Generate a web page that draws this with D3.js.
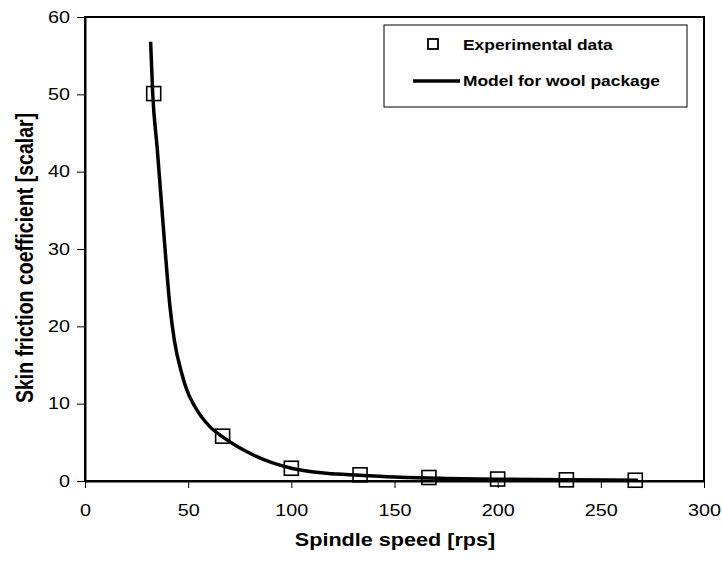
<!DOCTYPE html>
<html>
<head>
<meta charset="utf-8">
<script src="https://cdn.jsdelivr.net/npm/d3@7/dist/d3.min.js"></script>
<style>
  body { margin: 0; background: #fff; }
  text { font-family: "Liberation Sans", Arial, sans-serif; }
</style>
</head>
<body>
<svg id="chart" width="722" height="575"></svg>
<script>
// experimental points (spindle speed rps, skin friction coefficient)
var expSpeed = [33.3, 66.7, 100, 133.3, 166.7, 200, 233.3, 266.7];
var expCoef  = [50.1, 5.8, 1.65, 0.8, 0.45, 0.25, 0.15, 0.1];

// model curve
var modelSpeed = [31.8, 32.8, 35, 38.5, 41.2, 43.3, 46.9, 49.3, 53.3, 60.6, 66.7, 81.6, 100, 117, 133.3, 152.7, 175, 200, 233.3, 268];
var modelCoef  = [56.8, 50.2, 43, 31, 22.5, 18.2, 13.9, 11.8, 9.6, 7.0, 5.7, 3.36, 1.65, 1.0, 0.75, 0.48, 0.33, 0.24, 0.15, 0.1];

var xTicks = [0, 50, 100, 150, 200, 250, 300];
var yTicks = [0, 10, 20, 30, 40, 50, 60];

var m = {left: 85, top: 17, right: 704, bottom: 481};
var sx = 1.2; // text in the original is a bit wide

var svg = d3.select("#chart");

var x = d3.scaleLinear().domain([0, 300]).range([m.left, m.right]);
var y = d3.scaleLinear().domain([0, 60]).range([m.bottom, m.top]);

// plot frame
svg.append("rect")
    .attr("x", m.left).attr("y", m.top)
    .attr("width", m.right - m.left).attr("height", m.bottom - m.top)
    .attr("fill", "none").attr("stroke", "#000").attr("stroke-width", 2);

var xAxis = svg.append("g")
    .attr("transform", "translate(0," + m.bottom + ")")
    .call(d3.axisBottom(x).tickValues(xTicks).tickSize(7).tickPadding(16).tickSizeOuter(0));

var yAxis = svg.append("g")
    .attr("transform", "translate(" + m.left + ",0)")
    .call(d3.axisLeft(y).tickValues(yTicks).tickSize(8).tickPadding(6).tickSizeOuter(0));

[xAxis, yAxis].forEach(function (g) {
    g.select(".domain").attr("stroke-width", 2);
    g.selectAll(".tick line").attr("stroke-width", 1);
    g.selectAll(".tick text").attr("font-size", 16.5).attr("fill", "#000")
        .style("font-family", "'Liberation Sans', Arial, sans-serif");
});
xAxis.selectAll(".tick text").attr("transform", "scale(" + sx + ",1)");
yAxis.selectAll(".tick text").attr("x", 0)
    .attr("transform", "translate(-15,0) scale(" + sx + ",1)");

// model line
var line = d3.line()
    .x(function (d, i) { return x(modelSpeed[i]); })
    .y(function (d) { return y(d); })
    .curve(d3.curveMonotoneX);

svg.append("path")
    .datum(modelCoef)
    .attr("d", line)
    .attr("fill", "none")
    .attr("stroke", "#000")
    .attr("stroke-width", 3.5);

// experimental squares
var sq = 14;
svg.selectAll("rect.pt")
    .data(expCoef)
    .enter().append("rect")
    .attr("class", "pt")
    .attr("x", function (d, i) { return x(expSpeed[i]) - sq / 2; })
    .attr("y", function (d) { return y(d) - sq / 2; })
    .attr("width", sq).attr("height", sq)
    .attr("fill", "none")
    .attr("stroke", "#000")
    .attr("stroke-width", 1.6);

// axis titles
svg.append("text")
    .attr("transform", "translate(395,546) scale(" + sx + ",1)")
    .attr("text-anchor", "middle")
    .attr("font-size", 18).attr("font-weight", "bold")
    .text("Spindle speed [rps]");

svg.append("text")
    .attr("transform", "translate(33,258) scale(" + sx + ",1) rotate(-90)")
    .attr("text-anchor", "middle")
    .attr("font-size", 19.5).attr("font-weight", "bold")
    .text("Skin friction coefficient [scalar]");

// legend
var lg = svg.append("g");
lg.append("rect")
    .attr("x", 384).attr("y", 25).attr("width", 303).attr("height", 82)
    .attr("fill", "#fff").attr("stroke", "#000").attr("stroke-width", 1);
lg.append("rect")
    .attr("x", 428).attr("y", 39).attr("width", 10).attr("height", 10)
    .attr("fill", "none").attr("stroke", "#000").attr("stroke-width", 1.8);
lg.append("text")
    .attr("transform", "translate(463,50) scale(" + sx + ",1)")
    .attr("font-size", 14.5).attr("font-weight", "bold")
    .text("Experimental data");
lg.append("line")
    .attr("x1", 413).attr("x2", 460).attr("y1", 81).attr("y2", 81)
    .attr("stroke", "#000").attr("stroke-width", 3.5);
lg.append("text")
    .attr("transform", "translate(463,86) scale(" + sx + ",1)")
    .attr("font-size", 14.5).attr("font-weight", "bold")
    .text("Model for wool package");
</script>
</body>
</html>
